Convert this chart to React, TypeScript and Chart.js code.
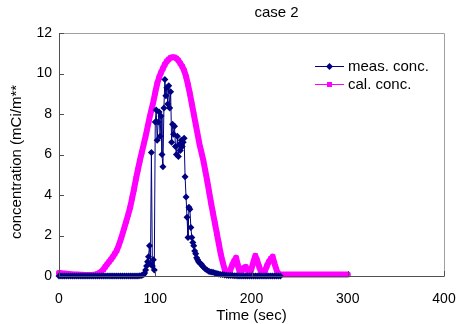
import React, { useEffect, useRef } from "react";
import { Chart, registerables } from "chart.js";

Chart.register(...registerables);

const TITLE = "case 2";
const X_TITLE = "Time (sec)";
const Y_TITLE = "concentration (mCi/m**";
const SERIES_NAMES = ["meas. conc.", "cal. conc."];

const X_TICKS = [0, 100, 200, 300, 400];
const Y_TICKS = [0, 2, 4, 6, 8, 10, 12];

// measured concentration: time (sec) and value
const measTime = [
  0, 2, 4, 6, 8, 10, 12, 14, 16, 18, 20, 22, 24, 26, 28, 30, 32, 34, 36, 38, 40,
  42, 44, 46, 48, 50, 52, 54, 56, 58, 60, 62, 64, 66, 68, 70, 72, 74, 76, 78, 80,
  82, 84, 86, 88, 89, 90, 91, 92, 93, 94, 95, 96, 97, 98, 99, 100, 101, 102,
  103, 104, 105, 106, 107, 108, 109, 110, 111, 112, 113, 114, 115, 116, 117, 118,
  119, 120, 121, 122, 123, 124, 125, 126, 127, 128, 129, 130, 131, 132, 133, 134,
  135, 136, 137, 138, 139, 140, 141, 142, 143, 144, 145, 146, 147, 148, 149, 150,
  152, 154, 156, 158, 160, 162, 164, 166, 168, 170, 172, 174, 176, 178, 180, 182,
  184, 186, 188, 190, 192, 194, 196, 198, 200, 202, 204, 206, 208, 210, 212, 214,
  216, 218, 220, 222, 224, 226, 228, 230,
];
const measValue = [
  0, 0, 0, 0, 0, 0, 0, 0, 0, 0, 0, 0, 0, 0, 0, 0, 0, 0, 0, 0, 0,
  0, 0, 0, 0, 0, 0, 0, 0, 0, 0, 0, 0, 0, 0, 0, 0, 0, 0, 0, 0,
  0, 0.01, 0.03, 0.08, 0.15, 0.3, 0.5, 0.7, 0.95, 1.5, 0.6, 6.1, 0.5, 0.8, 0.3, 7.6, 8.2, 6.7,
  7.6, 8.1, 6.9, 7.9, 6.0, 5.4, 8.3, 9.7, 8.9, 9.3, 8.5, 9.4, 8.3, 9.1, 6.6, 7.5,
  7.0, 7.4, 6.4, 6.0, 6.9, 5.9, 6.5, 6.2, 6.7, 6.4, 6.6, 6.8, 4.9, 3.9, 2.9, 1.9,
  3.4, 3.3, 2.4, 1.9, 1.65, 1.5, 1.24, 1.1, 0.9, 0.8, 0.7, 0.66, 0.6, 0.58, 0.5, 0.45,
  0.35, 0.28, 0.22, 0.2, 0.18, 0.15, 0.12, 0.1, 0.08, 0.07, 0.05, 0.04, 0.03, 0.02, 0.02, 0.01,
  0.01, 0, 0, 0, 0, 0, 0, 0, 0, 0, 0, 0, 0, 0, 0, 0,
  0, 0, 0, 0, 0, 0, 0, 0,
];

// calculated concentration: time (sec) and value
const calTime = [
  0, 2, 4, 6, 8, 10, 12, 14, 16, 18, 20, 22, 24, 26, 28, 30, 32, 34, 36, 38, 40,
  42, 44, 46, 48, 50, 52, 54, 56, 58, 60, 62, 64, 66, 68, 70, 72, 74, 76, 78, 80,
  82, 84, 86, 88, 90, 92, 94, 96, 98, 100, 102, 104, 106, 108, 110, 112, 114, 116,
  118, 120, 122, 124, 126, 128, 130, 132, 134, 136, 138, 140, 142, 144, 146, 148,
  150, 152, 154, 156, 158, 160, 162, 164, 166, 168, 170, 172, 174, 176, 178, 180,
  182, 184, 186, 188, 190, 192, 194, 196, 198, 200, 202, 204, 206, 208, 210, 212,
  214, 216, 218, 220, 222, 224, 226, 228, 230, 232, 234, 236, 238, 240, 242, 244,
  246, 248, 250, 252, 254, 256, 258, 260, 262, 264, 266, 268, 270, 272, 274, 276,
  278, 280, 282, 284, 286, 288, 290, 292, 294, 296, 298, 300,
];
const calValue = [
  0.15, 0.14, 0.13, 0.12, 0.11, 0.1, 0.09, 0.08, 0.08, 0.07, 0.07, 0.06, 0.06, 0.05, 0.05, 0.05, 0.05, 0.05, 0.06, 0.07, 0.1,
  0.15, 0.22, 0.32, 0.45, 0.58, 0.7, 0.82, 0.95, 1.1, 1.26, 1.5, 1.78, 2.08, 2.4, 2.72, 3.05, 3.4, 3.85, 4.3, 4.8,
  5.25, 5.7, 6.1, 6.5, 6.9, 7.35, 7.8, 8.2, 8.6, 9.05, 9.5, 9.8, 10.05, 10.25, 10.45, 10.6, 10.7, 10.78,
  10.8, 10.8, 10.75, 10.65, 10.5, 10.35, 10.15, 9.85, 9.45, 9.0, 8.5, 8.0, 7.5, 7.0, 6.5, 6.1,
  5.7, 5.2, 4.7, 4.15, 3.6, 3.1, 2.6, 2.1, 1.6, 1.1, 0.7, 0.35, 0.12, 0.05, 0.3, 0.55,
  0.75, 0.9, 0.5, 0.15, 0.25, 0.4, 0.45, 0.3, 0.12, 0.35, 0.7, 1.0, 0.75, 0.45, 0.2, 0.05,
  0.25, 0.5, 0.7, 0.85, 0.95, 0.6, 0.3, 0.1, 0.07, 0.07, 0.07, 0.07, 0.07, 0.07, 0.07, 0.07,
  0.07, 0.07, 0.07, 0.07, 0.07, 0.07, 0.07, 0.07, 0.07, 0.07, 0.07, 0.07, 0.07, 0.07, 0.07, 0.07,
  0.07, 0.07, 0.07, 0.07, 0.07, 0.07, 0.07, 0.07, 0.07, 0.07, 0.07, 0.07,
];

const MEAS_COLOR = "#000080";
const CAL_COLOR = "#FF00FF";
const FONT = "'Liberation Sans', Arial, sans-serif";

const decorPlugin = {
  id: "decor",
  afterDraw(chart: any) {
    const { ctx, chartArea: a, scales } = chart;
    const xs = scales.x;
    const ys = scales.y;
    ctx.save();
    // plot border
    ctx.lineWidth = 1;
    ctx.strokeStyle = "#a0a0a0";
    ctx.beginPath();
    ctx.moveTo(Math.round(a.left) + 0.5, Math.round(a.top) + 0.5);
    ctx.lineTo(Math.round(a.right) + 0.5, Math.round(a.top) + 0.5);
    ctx.lineTo(Math.round(a.right) + 0.5, Math.round(a.bottom) + 0.5);
    ctx.stroke();
    ctx.strokeStyle = "#505050";
    ctx.beginPath();
    ctx.moveTo(Math.round(a.left) + 0.5, Math.round(a.top) + 0.5);
    ctx.lineTo(Math.round(a.left) + 0.5, Math.round(a.bottom) + 0.5);
    ctx.lineTo(Math.round(a.right) + 0.5, Math.round(a.bottom) + 0.5);
    ctx.stroke();
    // tick marks (inside)
    ctx.beginPath();
    Y_TICKS.forEach((v) => {
      const y = Math.round(ys.getPixelForValue(v)) + 0.5;
      ctx.moveTo(Math.round(a.left), y);
      ctx.lineTo(Math.round(a.left) + 5, y);
    });
    X_TICKS.forEach((v) => {
      const x = Math.round(xs.getPixelForValue(v)) + 0.5;
      ctx.moveTo(x, Math.round(a.bottom));
      ctx.lineTo(x, Math.round(a.bottom) - 5);
    });
    ctx.stroke();

    // titles
    ctx.fillStyle = "#000";
    ctx.font = `15px ${FONT}`;
    ctx.textAlign = "center";
    ctx.textBaseline = "middle";
    ctx.fillText(TITLE, (a.left + a.right) / 2 + 25, 13);
    ctx.fillText(X_TITLE, (a.left + a.right) / 2, 316);
    ctx.save();
    ctx.translate(17, 162);
    ctx.rotate(-Math.PI / 2);
    ctx.fillText(Y_TITLE, 0, 0);
    ctx.restore();

    // legend
    const items = [
      { name: SERIES_NAMES[0], color: MEAS_COLOR, y: 66, style: "diamond" },
      { name: SERIES_NAMES[1], color: CAL_COLOR, y: 84, style: "square" },
    ];
    items.forEach((it) => {
      ctx.strokeStyle = it.color;
      ctx.lineWidth = 1;
      ctx.beginPath();
      ctx.moveTo(315, it.y + 0.5);
      ctx.lineTo(344, it.y + 0.5);
      ctx.stroke();
      ctx.fillStyle = it.color;
      ctx.beginPath();
      if (it.style === "diamond") {
        ctx.moveTo(329.5, it.y - 3);
        ctx.lineTo(333, it.y + 0.5);
        ctx.lineTo(329.5, it.y + 4);
        ctx.lineTo(326, it.y + 0.5);
        ctx.closePath();
      } else {
        ctx.rect(327, it.y - 2, 5, 5);
      }
      ctx.fill();
      ctx.fillStyle = "#000";
      ctx.textAlign = "left";
      ctx.fillText(it.name, 348, it.y + 1);
    });
    ctx.restore();
  },
};

export default function App() {
  const ref = useRef<HTMLCanvasElement | null>(null);
  useEffect(() => {
    document.body.style.margin = "0";
    const canvas = ref.current!;
    const measData = measTime.map((t, i) => ({ x: t, y: measValue[i] }));
    const calData = calTime.map((t, i) => ({ x: t, y: calValue[i] }));
    const chart = new Chart(canvas, {
      type: "line",
      data: {
        datasets: [
          {
            label: SERIES_NAMES[1],
            data: calData,
            borderColor: CAL_COLOR,
            backgroundColor: CAL_COLOR,
            borderWidth: 6,
            borderJoinStyle: "round",
            borderCapStyle: "round",
            pointStyle: "rect",
            pointRadius: 3.5,
            pointBorderWidth: 0,
            tension: 0,
            clip: false,
            order: 2,
          } as any,
          {
            label: SERIES_NAMES[0],
            data: measData,
            borderColor: MEAS_COLOR,
            backgroundColor: MEAS_COLOR,
            borderWidth: 1,
            pointStyle: "rectRot",
            pointRadius: 3.5,
            pointBorderWidth: 0,
            tension: 0,
            clip: false,
            order: 1,
          } as any,
        ],
      },
      options: {
        responsive: false,
        animation: false,
        devicePixelRatio: 1,
        layout: { padding: { top: 33, right: 14, left: 0, bottom: 0 } },
        plugins: {
          legend: { display: false },
          title: { display: false },
          tooltip: { enabled: false },
        },
        scales: {
          x: {
            type: "linear",
            min: 0,
            max: 400,
            afterFit: (s: any) => {
              s.height = 48;
              s.paddingLeft = 0;
              s.paddingRight = 0;
            },
            afterBuildTicks: (s: any) => {
              s.ticks = X_TICKS.map((v) => ({ value: v }));
            },
            border: { display: false },
            grid: { display: false, drawTicks: false },
            ticks: {
              padding: 15,
              color: "#000",
              font: { family: FONT, size: 14 },
              maxRotation: 0,
            },
          },
          y: {
            type: "linear",
            min: 0,
            max: 12,
            afterFit: (s: any) => {
              s.width = 59;
              s.paddingTop = 0;
              s.paddingBottom = 0;
            },
            afterBuildTicks: (s: any) => {
              s.ticks = Y_TICKS.map((v) => ({ value: v }));
            },
            border: { display: false },
            grid: { display: false, drawTicks: false },
            ticks: {
              padding: 7,
              color: "#000",
              font: { family: FONT, size: 14 },
            },
          },
        },
      } as any,
      plugins: [decorPlugin],
    });
    return () => chart.destroy();
  }, []);
  return (
    <div style={{ position: "absolute", left: 0, top: 0, width: 458, height: 324 }}>
      <canvas ref={ref} width={458} height={324} />
    </div>
  );
}
